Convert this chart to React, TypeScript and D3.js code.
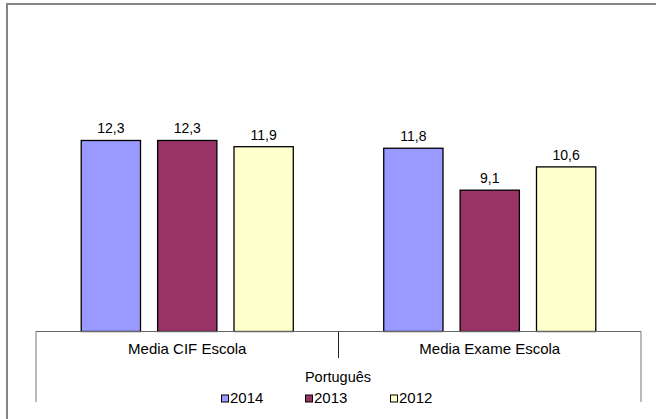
import React from 'react';
import * as d3 from 'd3';

const categories = ['Media CIF Escola', 'Media Exame Escola'];
const seriesNames = ['2014', '2013', '2012'];
const seriesColors = ['#9999FF', '#993366', '#FFFFCC'];
const values2014 = [12.3, 11.8];
const values2013 = [12.3, 9.1];
const values2012 = [11.9, 10.6];
const axisTitle = 'Português';

const W = 656;
const H = 419;
const font = '"Liberation Sans", Arial, sans-serif';

export default function App() {
    const series = [values2014, values2013, values2012];
    const baseY = 331.5;

    const x0 = d3.scaleBand<string>().domain(categories).range([36, 641]).padding(0);
    const x1 = d3.scaleBand<string>()
        .domain(seriesNames)
        .range([0, x0.bandwidth()])
        .paddingInner(0.224)
        .paddingOuter(0.592);
    const y = d3.scaleLinear().domain([0, 14]).range([baseY, baseY - 14 * 15.53]);

    const fmt = (v: number) => v.toFixed(1).replace('.', ',');

    const legendX = [221, 305, 390];

    return (
        <svg width={W} height={H} style={{ position: 'absolute', left: 0, top: 0, background: '#fff' }}>
            {/* outer frame, runs past the image edges */}
            <rect x={7} y={4} width={W + 20} height={H + 20} fill="none" stroke="#858585" strokeWidth={2} />

            {categories.map((cat, ci) => (
                <g key={cat} transform={`translate(${x0(cat)},0)`}>
                    {seriesNames.map((s, si) => {
                        const v = series[si][ci];
                        const bx = x1(s)!;
                        return (
                            <g key={s}>
                                <rect
                                    x={bx}
                                    y={y(v)}
                                    width={x1.bandwidth()}
                                    height={baseY - y(v)}
                                    fill={seriesColors[si]}
                                    stroke="#000"
                                    strokeWidth={1.3}
                                />
                                <text
                                    x={bx + x1.bandwidth() / 2}
                                    y={y(v) - 7}
                                    textAnchor="middle"
                                    fontFamily={font}
                                    fontSize={14}
                                    fill="#000"
                                >
                                    {fmt(v)}
                                </text>
                            </g>
                        );
                    })}
                    <text
                        x={x0.bandwidth() / 2}
                        y={354}
                        textAnchor="middle"
                        fontFamily={font}
                        fontSize={15}
                        fill="#000"
                    >
                        {cat}
                    </text>
                </g>
            ))}

            {/* category axis */}
            <line x1={36} x2={641} y1={baseY} y2={baseY} stroke="#666" strokeWidth={1} />
            <line x1={36} x2={36} y1={baseY} y2={402} stroke="#777" strokeWidth={1} />
            <line x1={641} x2={641} y1={baseY} y2={402} stroke="#777" strokeWidth={1} />
            <line x1={x0(categories[1])!} x2={x0(categories[1])!} y1={baseY} y2={358} stroke="#222" strokeWidth={1} />

            <text x={338} y={382} textAnchor="middle" fontFamily={font} fontSize={14.5} fill="#000">
                {axisTitle}
            </text>

            {seriesNames.map((s, i) => (
                <g key={s} transform={`translate(${legendX[i]},0)`}>
                    <rect x={0.5} y={395} width={7} height={7} fill={seriesColors[i]} stroke="#000" strokeWidth={1} />
                    <text x={9} y={402.5} fontFamily={font} fontSize={15} fill="#000">
                        {s}
                    </text>
                </g>
            ))}
        </svg>
    );
}
